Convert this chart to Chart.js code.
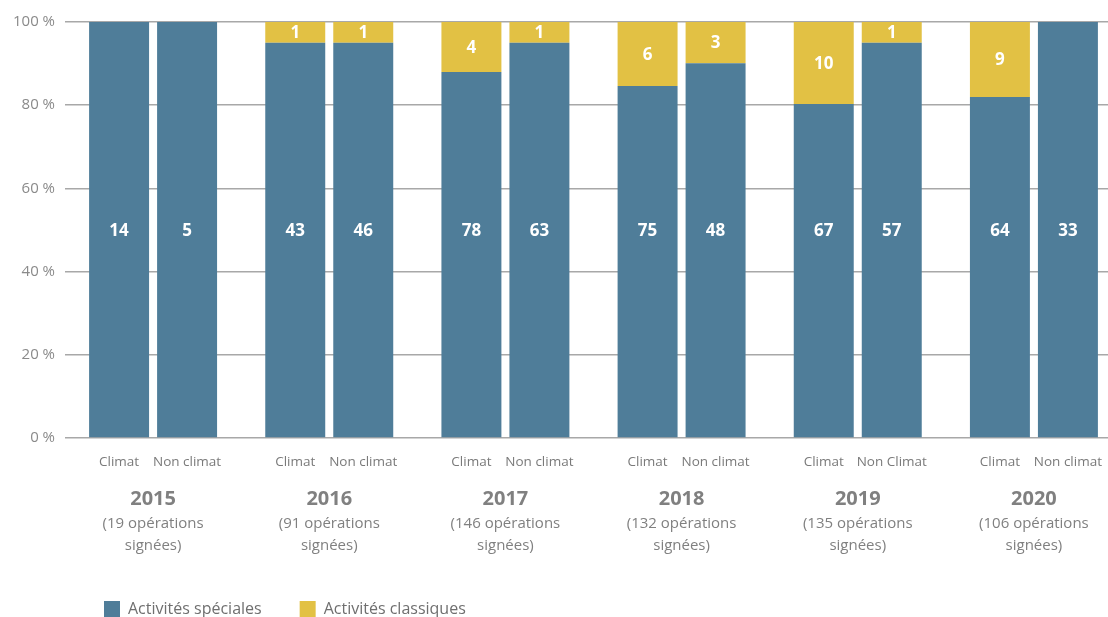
<!DOCTYPE html>
<html>
<head>
<meta charset="utf-8">
<script src="https://cdn.jsdelivr.net/npm/chart.js@4/dist/chart.umd.min.js"></script>
<style>
  html, body { margin: 0; padding: 0; background: #fff; overflow: hidden; }
  #wrap { width: 1108px; height: 617px; overflow: hidden; }
  #box { width: 1122px; height: 617px; position: relative; }
</style>
</head>
<body>
<div id="wrap"><div id="box"><canvas id="graf"></canvas></div></div>
<script>
// annees et nombre d'operations
const annees = ['2015', '2016', '2017', '2018', '2019', '2020'];
const operations = [19, 91, 146, 132, 135, 106];
const labelsClimat = ['Climat', 'Climat', 'Climat', 'Climat', 'Climat', 'Climat'];
const labelsNonClimat = ['Non climat', 'Non climat', 'Non climat', 'Non climat', 'Non Climat', 'Non climat'];

// parts en %
const climatSpeciales = [100, 95, 88, 84.6, 80.3, 82];
const climatClassiques = [0, 5, 12, 15.4, 19.7, 18];
const nonClimatSpeciales = [100, 95, 95, 90.1, 95, 100];
const nonClimatClassiques = [0, 5, 5, 9.9, 5, 0];

// nombres affiches dans les barres
const nbClimatSpeciales = [14, 43, 78, 75, 67, 64];
const nbClimatClassiques = [0, 1, 4, 6, 10, 9];
const nbNonClimatSpeciales = [5, 46, 63, 48, 57, 33];
const nbNonClimatClassiques = [0, 1, 1, 3, 1, 0];

const bleu = '#4f7d99';
const jaune = '#e2c144';
const police = "'Open Sans', 'Noto Sans', sans-serif";

const nombres = [nbClimatSpeciales, nbClimatClassiques, nbNonClimatSpeciales, nbNonClimatClassiques];

const etiquettes = {
    id: 'etiquettes',
    afterLayout(chart) {
        // legende decalee comme sur l'original
        chart.legend.left += 66;
        chart.legend.top += 10;
    },
    afterDatasetsDraw(chart) {
        const ctx = chart.ctx;
        const y = chart.scales.y;
        ctx.save();
        ctx.fillStyle = '#fff';
        ctx.font = 'bold 17px ' + police;
        ctx.textAlign = 'center';
        ctx.textBaseline = 'middle';
        nombres.forEach((arr, d) => {
            const meta = chart.getDatasetMeta(d);
            meta.data.forEach((bar, i) => {
                if (!arr[i]) return;
                const py = d % 2 === 0 ? y.getPixelForValue(50) : (bar.y + bar.base) / 2;
                ctx.fillText(arr[i], bar.x, py + 1);
            });
        });
        ctx.restore();
    },
    afterDraw(chart) {
        const ctx = chart.ctx;
        const x = chart.scales.x;
        const bas = chart.chartArea.bottom;
        ctx.save();
        ctx.textAlign = 'center';
        ctx.textBaseline = 'middle';
        const m0 = chart.getDatasetMeta(0);
        const m2 = chart.getDatasetMeta(2);
        annees.forEach((an, i) => {
            ctx.fillStyle = '#7a7a7a';
            ctx.font = '13.5px ' + police;
            ctx.fillText(labelsClimat[i], m0.data[i].x, bas + 24);
            ctx.fillText(labelsNonClimat[i], m2.data[i].x, bas + 24);
            const cx = x.getPixelForTick(i);
            ctx.fillStyle = '#808080';
            ctx.font = 'bold 20px ' + police;
            ctx.fillText(an, cx, bas + 61);
            ctx.font = '15px ' + police;
            ctx.fillText('(' + operations[i] + ' opérations', cx, bas + 86);
            ctx.fillText('signées)', cx, bas + 108);
        });
        ctx.restore();
    }
};

const canvas = document.getElementById('graf');
const graf = new Chart(canvas, {
    type: 'bar',
    data: {
        labels: annees,
        datasets: [
            { label: 'Activités spéciales', data: climatSpeciales, backgroundColor: bleu, stack: 'climat' },
            { label: 'Activités classiques', data: climatClassiques, backgroundColor: jaune, stack: 'climat' },
            { label: 'Activités spéciales', data: nonClimatSpeciales, backgroundColor: bleu, stack: 'non' },
            { label: 'Activités classiques', data: nonClimatClassiques, backgroundColor: jaune, stack: 'non' }
        ]
    },
    options: {
        responsive: true,
        maintainAspectRatio: false,
        animation: false,
        categoryPercentage: 0.772,
        barPercentage: 0.882,
        layout: { padding: { top: 22, bottom: 0, left: 0, right: 0 } },
        plugins: {
            tooltip: { enabled: false },
            legend: {
                position: 'bottom',
                align: 'start',
                labels: {
                    filter: (item) => item.datasetIndex < 2,
                    boxWidth: 16,
                    boxHeight: 16,
                    padding: 38,
                    color: '#6f6f6f',
                    font: { family: police, size: 16 }
                }
            }
        },
        scales: {
            x: {
                stacked: true,
                grid: { display: false },
                border: { display: false },
                ticks: { display: false },
                afterFit: (s) => { s.height = 115; }
            },
            y: {
                stacked: true,
                min: 0,
                max: 100,
                grid: { color: '#a8a8a8', lineWidth: 1.5, drawTicks: false },
                border: { display: false },
                ticks: {
                    stepSize: 20,
                    padding: 10,
                    color: '#8a8a8a',
                    font: { family: police, size: 15 },
                    callback: (v) => v + ' %'
                },
                afterFit: (s) => { s.width = 65; }
            }
        }
    },
    plugins: [etiquettes]
});
</script>
</body>
</html>
